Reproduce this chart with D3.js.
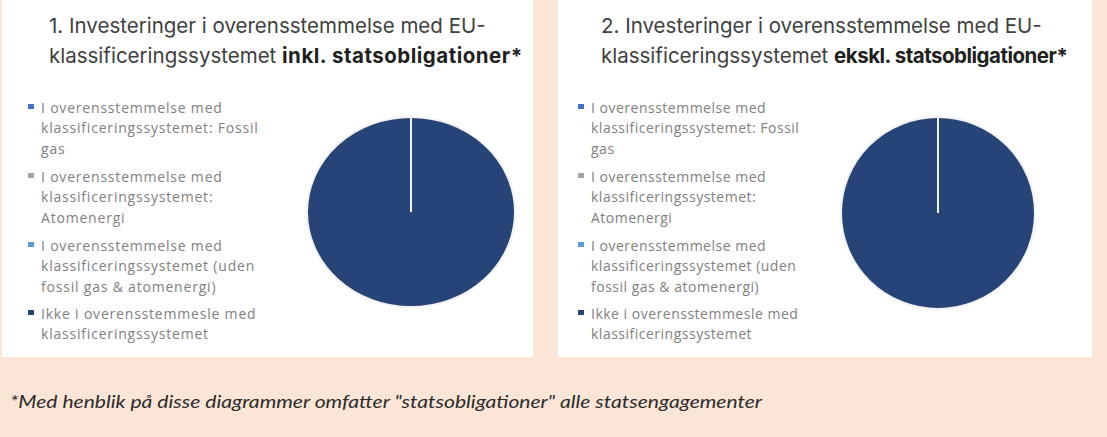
<!DOCTYPE html>
<html>
<head>
<meta charset="utf-8">
<script src="https://cdn.jsdelivr.net/npm/d3@7"></script>
<style>
  html, body { margin: 0; padding: 0; background: #FBE5D6; }
  svg { display: block; }
</style>
</head>
<body>
<div id="chart"></div>
<script>
// Legend categories (one array of lines per category)
const categories = [
    ['I overensstemmelse med', 'klassificeringssystemet: Fossil', 'gas'],
    ['I overensstemmelse med', 'klassificeringssystemet:', 'Atomenergi'],
    ['I overensstemmelse med', 'klassificeringssystemet (uden', 'fossil gas & atomenergi)'],
    ['Ikke i overensstemmesle med', 'klassificeringssystemet']
];
const categoryColors = ['#4472C4', '#A5A5A5', '#5B9BD5', '#264478'];

// Series values (share in %)
const valuesIncl = [0, 0, 0, 100];
const valuesExcl = [0, 0, 0, 100];

// Titles
const titleIncl = ['1. Investeringer i overensstemmelse med EU-', 'klassificeringssystemet ', 'inkl. statsobligationer*'];
const titleExcl = ['2. Investeringer i overensstemmelse med EU-', 'klassificeringssystemet ', 'ekskl. statsobligationer*'];

const footnote = '*Med henblik på disse diagrammer omfatter "statsobligationer" alle statsengagementer';

const W = 1107, H = 437;
const svg = d3.select('#chart').append('svg')
    .attr('width', W)
    .attr('height', H);

svg.append('rect').attr('width', W).attr('height', H).attr('fill', '#FBE5D6');

function renderPanel(opts) {
    const g = svg.append('g').attr('transform', `translate(${opts.x},0)`);

    // white card
    g.append('rect')
        .attr('width', opts.w)
        .attr('height', 357)
        .attr('fill', '#ffffff');

    // title
    const t = g.append('text')
        .attr('font-family', 'Inter, "Open Sans", sans-serif')
        .attr('font-size', 20.5)
        .attr('fill', '#404040');
    t.append('tspan').attr('x', opts.titleX).attr('y', 33).text(opts.title[0]);
    t.append('tspan').attr('x', opts.titleX).attr('y', 63).text(opts.title[1]);
    t.append('tspan')
        .attr('fill', '#1f1f1f')
        .attr('font-weight', 700)
        .attr('letter-spacing', opts.boldSpacing)
        .text(opts.title[2]);

    // legend
    const lineStarts = [113, 182, 251, 319];
    const legend = g.append('g')
        .attr('font-family', '"Open Sans", sans-serif')
        .attr('font-size', 14)
        .attr('letter-spacing', opts.legendSpacing)
        .attr('fill', '#808080');
    categories.forEach((lines, i) => {
        legend.append('rect')
            .attr('x', opts.legendX - 13)
            .attr('y', lineStarts[i] - 9)
            .attr('width', 6)
            .attr('height', 5)
            .attr('fill', categoryColors[i]);
        lines.forEach((ln, j) => {
            legend.append('text')
                .attr('x', opts.legendX)
                .attr('y', lineStarts[i] + j * 20.3)
                .text(ln);
        });
    });

    // pie (drawn in reverse so the zero-size slice edges sit on top)
    const pie = d3.pie().sort(null).value(d => d);
    const arc = d3.arc().innerRadius(0).outerRadius(opts.ry);
    const pg = g.append('g')
        .attr('transform', `translate(${opts.cx},${opts.cy}) scale(${opts.rx / opts.ry},1)`);
    pg.selectAll('path')
        .data(pie(opts.values).reverse())
        .enter()
        .append('path')
        .attr('d', arc)
        .attr('fill', d => categoryColors[d.index])
        .attr('stroke', '#f2f2f2')
        .attr('stroke-width', 2)
        .attr('vector-effect', 'non-scaling-stroke');
}

renderPanel({ x: 2, w: 531, title: titleIncl, titleX: 47, boldSpacing: 0.5,
    legendX: 39, legendSpacing: 0.8,
    values: valuesIncl, cx: 409, cy: 212, rx: 104, ry: 95 });
renderPanel({ x: 558, w: 534, title: titleExcl, titleX: 43, boldSpacing: -0.5,
    legendX: 33, legendSpacing: 0.5,
    values: valuesExcl, cx: 380, cy: 213, rx: 97, ry: 96 });

// footnote
svg.append('text')
    .attr('x', 10)
    .attr('y', 408)
    .attr('font-family', 'Lato, sans-serif')
    .attr('font-style', 'italic')
    .attr('font-size', 18)
    .attr('fill', '#2b2b2b')
    .attr('textLength', 752)
    .attr('lengthAdjust', 'spacingAndGlyphs')
    .text(footnote);
</script>
</body>
</html>
